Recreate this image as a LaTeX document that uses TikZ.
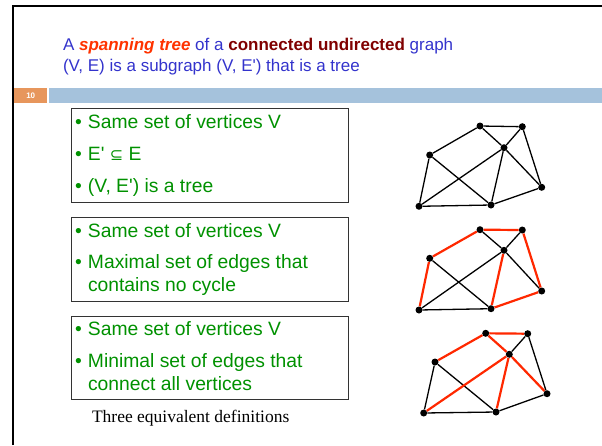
\documentclass[tikz,border=0pt]{standalone}
\usepackage{fontspec}
\setmainfont{Liberation Sans}[Ligatures=TeXOff]
\newfontfamily\serifname{Liberation Serif}
\newfontfamily\symfont{DejaVu Sans}
\definecolor{ttlblue}{RGB}{51,51,204}
\definecolor{spanred}{RGB}{255,51,0}
\definecolor{darkred}{RGB}{128,0,0}
\definecolor{itemgreen}{RGB}{0,145,0}
\definecolor{bannerorange}{RGB}{231,150,92}
\definecolor{bannerblue}{RGB}{165,194,220}
\definecolor{edgered}{RGB}{255,40,0}
\newcommand{\bul}{\makebox[13pt][l]{•}}
\begin{document}
\begin{tikzpicture}[x=1pt,y=-1pt,
  txt/.style={anchor=base west,inner sep=0pt,outer sep=0pt},
  ttl/.style={txt,text=ttlblue,font=\fontsize{17}{21}\selectfont},
  item/.style={txt,text=itemgreen,font=\fontsize{19.3}{23}\selectfont},
  defbox/.style={draw=black!80,line width=0.8pt,anchor=north west,inner sep=0pt,minimum width=277pt},
  vtx/.style={circle,fill=black,inner sep=0pt,minimum size=7pt},
  blk/.style={line width=1.3pt,black},
  rd/.style={line width=2.2pt,edgered}]
\useasboundingbox (0,0) rectangle (602,445);
% frame
\draw[line width=2.2pt] (13,445) -- (13,6) -- (602,6);
% banner
\node[fill=bannerorange,anchor=north west,minimum width=33pt,minimum height=15pt,inner sep=0pt] (num) at (14,88) {};
\node[text=white,font=\fontsize{8}{9}\selectfont\bfseries] (numtxt) at (num.center) {10};
\node[fill=bannerblue,anchor=north west,minimum width=553pt,minimum height=15pt,inner sep=0pt] (bar) at (49,88) {};
% title
\node[ttl] (t1) at (63,50) {A \textcolor{spanred}{\textbf{\textit{spanning tree}}} of a \textcolor{darkred}{\textbf{connected undirected}} graph};
\node[ttl] (t2) at (63,71) {(V, E) is a subgraph (V, E') that is a tree};
% box 1
\node[defbox,minimum height=94pt] (b1) at (71,108) {};
\node[item] (b1a) at (75,128) {\bul Same set of vertices V};
\node[item] (b1b) at (75,160) {\bul E' {\symfont\fontsize{16}{18}\selectfont ⊆} E};
\node[item] (b1c) at (75,192) {\bul (V, E') is a tree};
% box 2
\node[defbox,minimum height=84pt] (b2) at (71,217) {};
\node[item] (b2a) at (75,237) {\bul Same set of vertices V};
\node[item] (b2b) at (75,268) {\bul Maximal set of edges that};
\node[item] (b2c) at (88,291) {contains no cycle};
% box 3
\node[defbox,minimum height=83pt] (b3) at (71,316) {};
\node[item] (b3a) at (75,335) {\bul Same set of vertices V};
\node[item] (b3b) at (75,367) {\bul Minimal set of edges that};
\node[item] (b3c) at (88,390) {connect all vertices};
% caption
\node[txt,font=\serifname\fontsize{17.5}{20}\selectfont] (cap) at (92,422) {Three equivalent definitions};
% graph 1
\begin{scope}
\node[vtx] (a1) at (480,126) {};
\node[vtx] (bb1) at (522.3,126.7) {};
\node[vtx] (c1) at (504,147.7) {};
\node[vtx] (d1) at (429.7,155) {};
\node[vtx] (e1) at (541.7,187.3) {};
\node[vtx] (f1) at (491,205) {};
\node[vtx] (g1) at (419,206.3) {};
\draw[blk] (a1)--(bb1) (a1)--(c1) (bb1)--(c1) (a1)--(d1) (d1)--(g1) (d1)--(f1)
  (g1)--(c1) (g1)--(f1) (c1)--(f1) (c1)--(e1) (bb1)--(e1) (e1)--(f1);
\end{scope}
% graph 2
\begin{scope}
\node[vtx] (a2) at (480,229.7) {};
\node[vtx] (bb2) at (522.3,230) {};
\node[vtx] (c2) at (504,250.3) {};
\node[vtx] (d2) at (429.7,258.3) {};
\node[vtx] (e2) at (541.7,291) {};
\node[vtx] (f2) at (491,308.7) {};
\node[vtx] (g2) at (419,310) {};
\draw[blk] (a2)--(c2) (bb2)--(c2) (d2)--(f2) (g2)--(c2) (g2)--(f2) (c2)--(e2);
\draw[rd] (a2)--(d2) (d2)--(g2) (a2)--(bb2) (bb2)--(e2) (e2)--(f2) (c2)--(f2);
\end{scope}
% graph 3
\begin{scope}
\node[vtx] (a3) at (485.7,333.3) {};
\node[vtx] (bb3) at (527.7,333.7) {};
\node[vtx] (c3) at (509.3,354.3) {};
\node[vtx] (d3) at (435,362) {};
\node[vtx] (e3) at (547,393.7) {};
\node[vtx] (f3) at (496,412) {};
\node[vtx] (g3) at (423.7,413) {};
\draw[blk] (bb3)--(c3) (d3)--(g3) (d3)--(f3) (g3)--(f3) (f3)--(e3) (bb3)--(e3);
\draw[rd] (a3)--(d3) (a3)--(bb3) (a3)--(c3) (c3)--(g3) (c3)--(f3) (c3)--(e3);
\end{scope}
\end{tikzpicture}
\end{document}
